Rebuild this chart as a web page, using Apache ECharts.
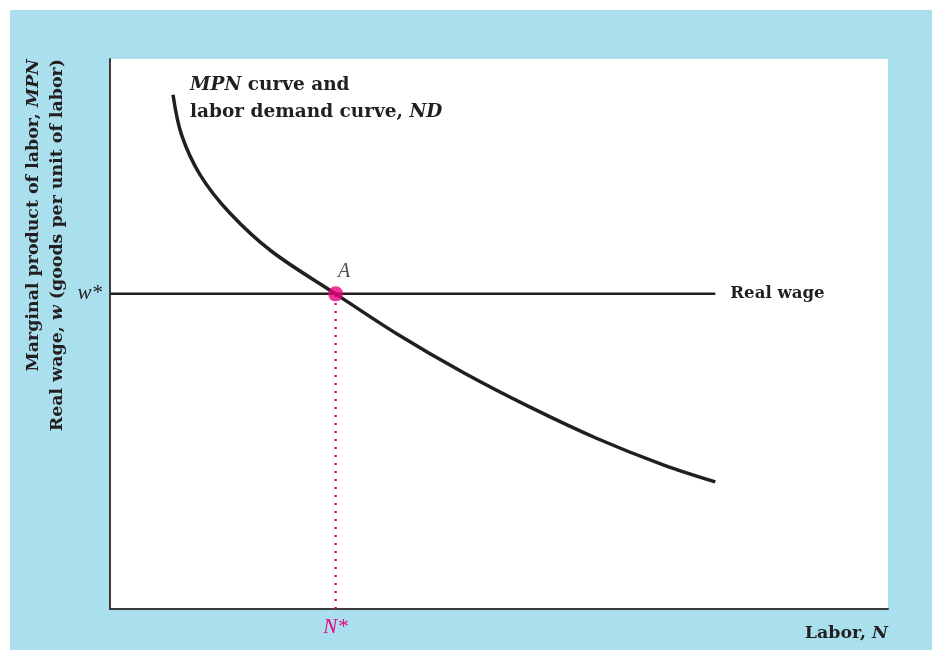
<!DOCTYPE html>
<html>
<head>
<meta charset="utf-8">
<title>MPN curve and labor demand</title>
<script src="https://cdn.jsdelivr.net/npm/echarts@6/dist/echarts.min.js"></script>
<style>
    html, body { margin: 0; padding: 0; background: #fff; }
    #chart { position: absolute; left: 10px; top: 10px; width: 922px; height: 640px; background: #aadfee; }
</style>
</head>
<body>
<div id="chart"></div>
<script>
// MPN / labor demand curve (labor N, marginal product)
const curveN   = [8.1, 9.2, 11.6, 15.4, 20.8, 29.0, 36.9, 45.4, 54.0, 62.6, 71.1, 77.8];
const curveMPN = [93.5, 86.2, 78.9, 72.0, 65.0, 57.3, 50.0, 43.0, 36.7, 31.0, 26.2, 23.1];
// equilibrium point A
const N_STAR = 29.0;
const W_STAR = 57.3;
// real wage line runs from the axis to here
const wageEndN = 77.8;
const tickLabelsX = ['N*'];
const tickLabelsY = ['w*'];

const bold = "'DejaVu Serif', serif";
const serif = "'Liberation Serif', 'DejaVu Serif', serif";
const ink = '#231f20';
const pink = '#e6007e';

let myChart = echarts.init(document.getElementById('chart'));

let curveData = curveN.map((n, i) => [n, curveMPN[i]]);

let option = {
    backgroundColor: 'transparent',
    animation: false,
    grid: {
        left: 100,
        top: 49,
        right: 44,
        bottom: 41,
        show: true,
        backgroundColor: '#fff',
        borderWidth: 0
    },
    xAxis: {
        type: 'value',
        min: 0,
        max: 100,
        name: '{b|Labor, }{i|N}',
        nameLocation: 'end',
        nameGap: 0,
        nameTextStyle: {
            align: 'right',
            verticalAlign: 'top',
            padding: [16, 0, 0, 0],
            rich: {
                b: { fontFamily: bold, fontWeight: 'bold', fontSize: 17.4, color: ink },
                i: { fontFamily: bold, fontWeight: 'bold', fontStyle: 'italic', fontSize: 17.4, color: ink }
            }
        },
        axisLine: { show: true, lineStyle: { color: '#3a3a3a', width: 2 } },
        axisTick: { show: false },
        splitLine: { show: false },
        axisLabel: {
            customValues: [N_STAR],
            formatter: () => tickLabelsX[0],
            color: pink,
            fontFamily: serif,
            fontStyle: 'italic',
            fontSize: 21,
            margin: 8
        }
    },
    yAxis: {
        type: 'value',
        min: 0,
        max: 100,
        axisLine: { show: true, lineStyle: { color: '#3a3a3a', width: 2 } },
        axisTick: { show: false },
        splitLine: { show: false },
        axisLabel: {
            customValues: [W_STAR],
            formatter: () => tickLabelsY[0],
            color: ink,
            fontFamily: serif,
            fontStyle: 'italic',
            fontSize: 21,
            margin: 8
        }
    },
    graphic: [
        {
            type: 'text',
            left: 180,
            top: 62,
            style: {
                text: '{i|MPN} curve and\nlabor demand curve, {i|ND}',
                font: 'bold 18.5px ' + bold,
                fill: ink,
                lineHeight: 27,
                rich: {
                    i: { fontFamily: bold, fontWeight: 'bold', fontStyle: 'italic', fontSize: 18.5, fill: ink }
                }
            }
        },
        {
            type: 'text',
            x: 35,
            y: 49,
            rotation: Math.PI / 2,
            style: {
                text: 'Marginal product of labor, {i|MPN}\nReal wage, {i|w} (goods per unit of labor)',
                font: 'bold 17.4px ' + bold,
                fill: ink,
                align: 'right',
                verticalAlign: 'middle',
                lineHeight: 24,
                rich: {
                    i: { fontFamily: bold, fontWeight: 'bold', fontStyle: 'italic', fontSize: 17.4, fill: ink }
                }
            }
        }
    ],
    series: [
        {
            name: 'Real wage',
            type: 'line',
            data: [[0, W_STAR], [wageEndN, W_STAR]],
            symbol: 'none',
            lineStyle: { color: ink, width: 2.5 },
            endLabel: {
                show: true,
                formatter: 'Real wage',
                distance: 15,
                color: ink,
                fontFamily: bold,
                fontWeight: 'bold',
                fontSize: 16.6
            },
            z: 2
        },
        {
            name: 'N*',
            type: 'line',
            data: [[N_STAR, 0], [N_STAR, W_STAR]],
            symbol: 'none',
            lineStyle: { color: pink, width: 2.4, type: [2, 6] },
            z: 1
        },
        {
            name: 'MPN',
            type: 'line',
            data: curveData,
            smooth: 0.35,
            symbol: 'none',
            lineStyle: { color: ink, width: 3.5 },
            z: 3
        },
        {
            name: 'A',
            type: 'scatter',
            data: [[N_STAR, W_STAR]],
            symbolSize: 15,
            itemStyle: { color: pink },
            label: {
                show: true,
                formatter: 'A',
                position: [10, -25],
                color: ink,
                fontFamily: serif,
                fontStyle: 'italic',
                fontSize: 20
            },
            z: 4
        }
    ]
};
myChart.setOption(option);
</script>
</body>
</html>
